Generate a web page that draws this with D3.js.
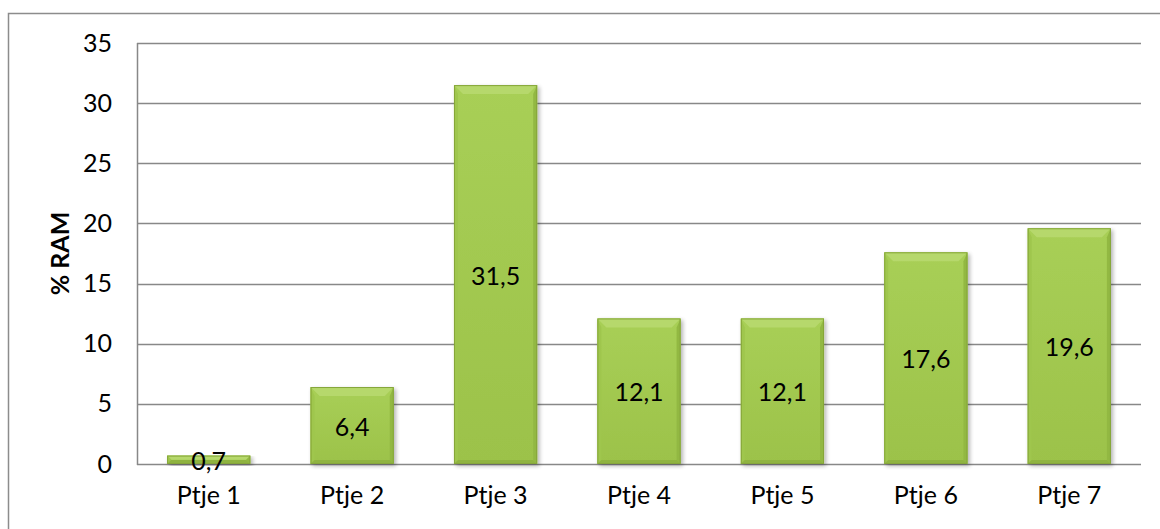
<!DOCTYPE html>
<html>
<head>
<meta charset="utf-8">
<script src="https://cdn.jsdelivr.net/npm/d3@7"></script>
<style>
  html, body { margin: 0; padding: 0; background: #fff; }
  svg { display: block; }
  text { font-family: Lato, "Noto Sans", sans-serif; fill: #000; }
</style>
</head>
<body>
<svg id="chart" width="1160" height="529"></svg>
<script>
// Share of RAM per partition
const categories = ["Ptje 1", "Ptje 2", "Ptje 3", "Ptje 4", "Ptje 5", "Ptje 6", "Ptje 7"];
const values = [0.7, 6.4, 31.5, 12.1, 12.1, 17.6, 19.6];
const labels = ["0,7", "6,4", "31,5", "12,1", "12,1", "17,6", "19,6"];
const yTicks = [0, 5, 10, 15, 20, 25, 30, 35];
const yTitle = "% RAM";

const svg = d3.select("#chart");
const W = 1160, H = 529;
const plot = { left: 137, right: 1141, top: 43, bottom: 464 };
const FONT = "25px";

// outer chart frame (extends past the right and bottom edges)
svg.append("path")
  .attr("d", `M8.5,${H + 2} V13.5 H${W + 2}`)
  .attr("fill", "none").attr("stroke", "#8c8c8c").attr("stroke-width", 1.5);

const x = d3.scaleBand().domain(categories).range([plot.left, plot.right]).paddingInner(0.42).paddingOuter(0.21);
const y = d3.scaleLinear().domain([0, 35]).range([plot.bottom, plot.top]);

// gridlines
svg.append("g").selectAll("line").data(yTicks).join("line")
  .attr("x1", plot.left).attr("x2", plot.right)
  .attr("y1", d => Math.round(y(d)) + 0.5).attr("y2", d => Math.round(y(d)) + 0.5)
  .attr("stroke", "#888").attr("stroke-width", 1.5);

// y axis line
svg.append("line")
  .attr("x1", plot.left + 0.5).attr("x2", plot.left + 0.5)
  .attr("y1", plot.top).attr("y2", plot.bottom + 1)
  .attr("stroke", "#888").attr("stroke-width", 1.5);

// y tick labels
const yAxis = d3.axisLeft(y).tickValues(yTicks).tickSize(0).tickPadding(25).tickFormat(d3.format("d"));
const gy = svg.append("g").attr("transform", `translate(${plot.left},0)`).call(yAxis);
gy.select(".domain").remove();
gy.selectAll("text").style("font-family", "Lato, 'Noto Sans', sans-serif").style("font-size", FONT).attr("fill", "#000");

// x tick labels
const xAxis = d3.axisBottom(x).tickSize(0).tickPadding(22);
const gx = svg.append("g").attr("transform", `translate(0,${plot.bottom})`).call(xAxis);
gx.select(".domain").remove();
gx.selectAll("text").style("font-family", "Lato, 'Noto Sans', sans-serif").style("font-size", FONT).attr("fill", "#000");

// y title
svg.append("text")
  .attr("transform", `translate(69,${(plot.top + plot.bottom) / 2}) rotate(-90)`)
  .attr("text-anchor", "middle")
  .style("font-size", FONT).style("font-weight", "bold")
  .text(yTitle);

// gradients and shadow for beveled bars
const defs = svg.append("defs");
const g1 = defs.append("linearGradient").attr("id", "barFill").attr("x1", 0).attr("x2", 0).attr("y1", 0).attr("y2", 1);
g1.append("stop").attr("offset", "0%").attr("stop-color", "#a8cf56");
g1.append("stop").attr("offset", "100%").attr("stop-color", "#9cc24a");
const sh = defs.append("filter").attr("id", "shadow").attr("x", "-10%").attr("y", "-10%").attr("width", "130%").attr("height", "130%");
sh.append("feGaussianBlur").attr("in", "SourceAlpha").attr("stdDeviation", 2);
sh.append("feOffset").attr("dx", 2).attr("dy", 2).attr("result", "b");
sh.append("feComponentTransfer").append("feFuncA").attr("type", "linear").attr("slope", 0.3);
const merge = sh.append("feMerge");
merge.append("feMergeNode");
merge.append("feMergeNode").attr("in", "SourceGraphic");

const data = categories.map((c, i) => ({ c, v: values[i], l: labels[i] }));
const bars = svg.append("g").selectAll("g").data(data).join("g").attr("filter", "url(#shadow)");

bars.each(function(d) {
  const g = d3.select(this);
  const x0 = x(d.c), x1 = x0 + x.bandwidth();
  const y0 = y(d.v), y1 = y(0);
  const h = y1 - y0;
  const b = Math.min(9, h / 2, x.bandwidth() / 2);
  const s = Math.min(4, h / 2);
  g.append("rect").attr("x", x0).attr("y", y0).attr("width", x1 - x0).attr("height", h).attr("fill", "url(#barFill)");
  // bevel faces
  g.append("polygon").attr("points", `${x0},${y0} ${x1},${y0} ${x1 - b},${y0 + b} ${x0 + b},${y0 + b}`).attr("fill", "#b6d86c");
  g.append("polygon").attr("points", `${x0},${y0} ${x0 + s},${y0 + b} ${x0 + s},${y1 - s} ${x0},${y1}`).attr("fill", "#9fc64d");
  g.append("polygon").attr("points", `${x1},${y0} ${x1},${y1} ${x1 - s},${y1 - s} ${x1 - s},${y0 + b}`).attr("fill", "#92b843");
  g.append("polygon").attr("points", `${x0},${y1} ${x0 + s},${y1 - s} ${x1 - s},${y1 - s} ${x1},${y1}`).attr("fill", "#8fb341");
  g.append("rect").attr("x", x0 + 0.5).attr("y", y0 + 0.5).attr("width", x1 - x0 - 1).attr("height", Math.max(0, h - 1))
    .attr("fill", "none").attr("stroke", "#86a63a").attr("stroke-width", 1);
});

// value labels, centered in each bar
svg.append("g").selectAll("text").data(data).join("text")
  .attr("x", d => x(d.c) + x.bandwidth() / 2)
  .attr("y", d => (y(d.v) + y(0)) / 2)
  .attr("text-anchor", "middle")
  .attr("dominant-baseline", "central")
  .style("font-size", FONT)
  .text(d => d.l);
</script>
</body>
</html>
